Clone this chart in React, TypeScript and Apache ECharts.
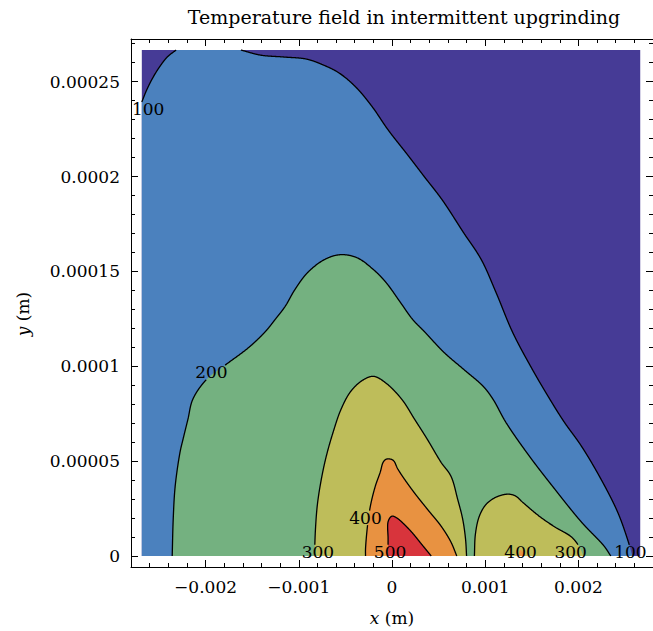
import React, { useEffect, useRef } from "react";
import * as echarts from "echarts";

const FONT = "'DejaVu Serif', 'Liberation Serif', serif";

const chartTitle = "Temperature field in intermittent upgrinding";
const xAxisName = "{i|x} (m)";
const yAxisName = "{i|y} (m)";

const xExtent = [-0.0028, 0.0028];
const yExtent = [-0.0000058, 0.0002725];

const xMajorTicks = [-0.002, -0.001, 0, 0.001, 0.002];
const xTickLabels = ["\u22120.002", "\u22120.001", "0", "0.001", "0.002"];
const xMinorTicks = [
  -0.0026, -0.0024, -0.0022, -0.0018, -0.0016, -0.0014, -0.0012, -0.0008, -0.0006, -0.0004, -0.0002,
  0.0002, 0.0004, 0.0006, 0.0008, 0.0012, 0.0014, 0.0016, 0.0018, 0.0022, 0.0024, 0.0026,
];
const yMajorTicks = [0, 0.00005, 0.0001, 0.00015, 0.0002, 0.00025];
const yTickLabels = ["0", "0.00005", "0.0001", "0.00015", "0.0002", "0.00025"];
const yMinorTicks = [
  0.00001, 0.00002, 0.00003, 0.00004, 0.00006, 0.00007, 0.00008, 0.00009, 0.00011, 0.00012, 0.00013,
  0.00014, 0.00016, 0.00017, 0.00018, 0.00019, 0.00021, 0.00022, 0.00023, 0.00024, 0.00026, 0.00027,
];

// extent of the computed temperature field
const fieldX = [-2.684e-3, 2.663e-3];
const fieldY = [0, 2.667e-4];

// colours of the bands: <100, 100-200, 200-300, 300-400, 400-500, >500
const bandColors = ["#463b96", "#4b81be", "#74b180", "#bebd5a", "#e89241", "#d8343c"];

// contour lines [x (m), y (m)]
const contour100TopLeft = [
  [-2.684e-3, 23.93e-5],
  [-2.632e-3, 24.56e-5],
  [-2.568e-3, 25.19e-5],
  [-2.495e-3, 25.77e-5],
  [-2.411e-3, 26.3e-5],
  [-2.316e-3, 26.67e-5],
];
const contour100Main = [
  [-1.621e-3, 26.67e-5],
  [-1.411e-3, 26.4e-5],
  [-1.158e-3, 26.3e-5],
  [-0.916e-3, 26.19e-5],
  [-0.737e-3, 25.88e-5],
  [-0.568e-3, 25.46e-5],
  [-0.389e-3, 24.72e-5],
  [-0.211e-3, 23.67e-5],
  [-0.042e-3, 22.46e-5],
  [0.168e-3, 21.14e-5],
  [0.347e-3, 19.99e-5],
  [0.537e-3, 18.78e-5],
  [0.768e-3, 17.04e-5],
  [0.958e-3, 15.62e-5],
  [1.116e-3, 13.89e-5],
  [1.295e-3, 11.78e-5],
  [1.505e-3, 9.84e-5],
  [1.674e-3, 8.42e-5],
  [1.842e-3, 7.1e-5],
  [2.032e-3, 5.79e-5],
  [2.242e-3, 4.05e-5],
  [2.421e-3, 2.31e-5],
  [2.526e-3, 0.89e-5],
  [2.579e-3, 0],
];
const contour200 = [
  [-2.358e-3, 0],
  [-2.347e-3, 1.95e-5],
  [-2.326e-3, 3.68e-5],
  [-2.274e-3, 5.47e-5],
  [-2.242e-3, 6.15e-5],
  [-2.189e-3, 7.21e-5],
  [-2.137e-3, 8.26e-5],
  [-1.989e-3, 9.31e-5],
  [-1.779e-3, 10.1e-5],
  [-1.537e-3, 10.99e-5],
  [-1.358e-3, 11.83e-5],
  [-1.253e-3, 12.47e-5],
  [-1.147e-3, 13.15e-5],
  [-1.042e-3, 14.04e-5],
  [-0.905e-3, 14.94e-5],
  [-0.726e-3, 15.62e-5],
  [-0.558e-3, 15.88e-5],
  [-0.379e-3, 15.73e-5],
  [-0.2e-3, 15.1e-5],
  [-0.063e-3, 14.41e-5],
  [0.084e-3, 13.41e-5],
  [0.221e-3, 12.47e-5],
  [0.347e-3, 11.83e-5],
  [0.558e-3, 10.73e-5],
  [0.768e-3, 9.84e-5],
  [0.979e-3, 8.94e-5],
  [1.084e-3, 8.26e-5],
  [1.221e-3, 7.05e-5],
  [1.474e-3, 5.26e-5],
  [1.747e-3, 3.52e-5],
  [2.032e-3, 1.79e-5],
  [2.274e-3, 0.53e-5],
  [2.347e-3, 0],
];
const contour300Main = [
  [-0.832e-3, 0],
  [-0.821e-3, 1.42e-5],
  [-0.8e-3, 2.73e-5],
  [-0.758e-3, 4.05e-5],
  [-0.705e-3, 5.26e-5],
  [-0.632e-3, 6.52e-5],
  [-0.547e-3, 7.73e-5],
  [-0.442e-3, 8.68e-5],
  [-0.316e-3, 9.26e-5],
  [-0.2e-3, 9.47e-5],
  [-0.074e-3, 9.15e-5],
  [0.105e-3, 8.26e-5],
  [0.242e-3, 7.21e-5],
  [0.379e-3, 6.15e-5],
  [0.526e-3, 4.94e-5],
  [0.632e-3, 4.21e-5],
  [0.705e-3, 2.98e-5],
  [0.758e-3, 1.95e-5],
  [0.789e-3, 0.89e-5],
  [0.8e-3, 0],
];
const contour300Lobe = [
  [0.884e-3, 0],
  [0.895e-3, 1.16e-5],
  [0.937e-3, 2.1e-5],
  [1.011e-3, 2.73e-5],
  [1.116e-3, 3.1e-5],
  [1.242e-3, 3.26e-5],
  [1.326e-3, 3.16e-5],
  [1.4e-3, 2.84e-5],
  [1.579e-3, 2.1e-5],
  [1.747e-3, 1.53e-5],
  [1.926e-3, 1.0e-5],
  [2.011e-3, 0.47e-5],
  [2.053e-3, 0],
];
const contour400Main = [
  [-0.284e-3, 0],
  [-0.284e-3, 0.37e-5],
  [-0.263e-3, 1.58e-5],
  [-0.232e-3, 2.63e-5],
  [-0.179e-3, 3.68e-5],
  [-0.126e-3, 4.42e-5],
  [-0.095e-3, 4.94e-5],
  [-0.063e-3, 5.1e-5],
  [-0.011e-3, 5.1e-5],
  [0.021e-3, 5.0e-5],
  [0.063e-3, 4.58e-5],
  [0.211e-3, 3.52e-5],
  [0.379e-3, 2.47e-5],
  [0.526e-3, 1.58e-5],
  [0.632e-3, 0.74e-5],
  [0.695e-3, 0],
];
const contour400Lobe = [
  [1.347e-3, 0],
  [1.379e-3, 0.32e-5],
  [1.432e-3, 0],
];
const contour500 = [
  [-0.042e-3, 0],
  [-0.042e-3, 0.89e-5],
  [-0.04e-3, 1.84e-5],
  [0, 2.1e-5],
  [0.053e-3, 2.0e-5],
  [0.105e-3, 1.79e-5],
  [0.211e-3, 1.26e-5],
  [0.316e-3, 0.63e-5],
  [0.421e-3, 0],
];

const contourLabels = [
  { text: "100", x: -2.616e-3, y: 23.54e-5 },
  { text: "200", x: -1.937e-3, y: 9.68e-5 },
  { text: "300", x: -0.795e-3, y: 0.21e-5 },
  { text: "400", x: -0.284e-3, y: 2.0e-5 },
  { text: "500", x: -0.021e-3, y: 0.21e-5 },
  { text: "400", x: 1.379e-3, y: 0.21e-5 },
  { text: "300", x: 1.916e-3, y: 0.21e-5 },
  { text: "100", x: 2.558e-3, y: 0.21e-5 },
];

const LABEL_FONT_SIZE = 17;
const TICK_FONT_SIZE = 17;

type Pt = number[];
type Part = { pts: Pt[]; smooth: boolean };

const fieldRect: Pt[] = [
  [fieldX[0], fieldY[0]],
  [fieldX[0], fieldY[1]],
  [fieldX[1], fieldY[1]],
  [fieldX[1], fieldY[0]],
];

const fillRegions: { color: string; parts: Part[] }[] = [
  { color: bandColors[0], parts: [{ pts: fieldRect, smooth: false }] },
  {
    color: bandColors[1],
    parts: [
      { pts: [[fieldX[0], fieldY[0]]], smooth: false },
      { pts: contour100TopLeft, smooth: true },
      { pts: contour100Main, smooth: true },
    ],
  },
  { color: bandColors[2], parts: [{ pts: contour200, smooth: true }] },
  { color: bandColors[3], parts: [{ pts: contour300Main, smooth: true }] },
  { color: bandColors[3], parts: [{ pts: contour300Lobe, smooth: true }] },
  { color: bandColors[4], parts: [{ pts: contour400Main, smooth: true }] },
  { color: bandColors[4], parts: [{ pts: contour400Lobe, smooth: true }] },
  { color: bandColors[5], parts: [{ pts: contour500, smooth: true }] },
];

const contourLines = [
  contour100TopLeft,
  contour100Main,
  contour200,
  contour300Main,
  contour300Lobe,
  contour400Main,
  contour400Lobe,
  contour500,
];

// centripetal Catmull-Rom through pixel points
function smoothPath(P: Pt[], steps = 10): Pt[] {
  if (P.length < 3) return P;
  const n = P.length;
  const ext: Pt[] = [
    [2 * P[0][0] - P[1][0], 2 * P[0][1] - P[1][1]],
    ...P,
    [2 * P[n - 1][0] - P[n - 2][0], 2 * P[n - 1][1] - P[n - 2][1]],
  ];
  const out: Pt[] = [P[0]];
  const knot = (a: Pt, b: Pt) => Math.max(1e-6, Math.pow(Math.hypot(b[0] - a[0], b[1] - a[1]), 0.5));
  for (let i = 1; i < ext.length - 2; i++) {
    const p0 = ext[i - 1], p1 = ext[i], p2 = ext[i + 1], p3 = ext[i + 2];
    const t0 = 0;
    const t1 = t0 + knot(p0, p1);
    const t2 = t1 + knot(p1, p2);
    const t3 = t2 + knot(p2, p3);
    for (let s = 1; s <= steps; s++) {
      const t = t1 + ((t2 - t1) * s) / steps;
      const pt: Pt = [0, 0];
      for (let d = 0; d < 2; d++) {
        const A1 = ((t1 - t) / (t1 - t0)) * p0[d] + ((t - t0) / (t1 - t0)) * p1[d];
        const A2 = ((t2 - t) / (t2 - t1)) * p1[d] + ((t - t1) / (t2 - t1)) * p2[d];
        const A3 = ((t3 - t) / (t3 - t2)) * p2[d] + ((t - t2) / (t3 - t2)) * p3[d];
        const B1 = ((t2 - t) / (t2 - t0)) * A1 + ((t - t0) / (t2 - t0)) * A2;
        const B2 = ((t3 - t) / (t3 - t1)) * A2 + ((t - t1) / (t3 - t1)) * A3;
        pt[d] = ((t2 - t) / (t2 - t1)) * B1 + ((t - t1) / (t2 - t1)) * B2;
      }
      out.push(pt);
    }
  }
  return out;
}

function splitOutside(pts: Pt[], rects: number[][]): Pt[][] {
  const inside = (p: Pt) => rects.some((r) => p[0] > r[0] && p[0] < r[2] && p[1] > r[1] && p[1] < r[3]);
  const out: Pt[][] = [];
  let cur: Pt[] = [];
  for (let i = 0; i < pts.length - 1; i++) {
    const a = pts[i], b = pts[i + 1];
    const len = Math.hypot(b[0] - a[0], b[1] - a[1]);
    const n = Math.max(1, Math.ceil(len / 0.5));
    for (let k = i === 0 ? 0 : 1; k <= n; k++) {
      const t = k / n;
      const p: Pt = [a[0] + (b[0] - a[0]) * t, a[1] + (b[1] - a[1]) * t];
      if (inside(p)) {
        if (cur.length > 1) out.push(cur);
        cur = [];
      } else cur.push(p);
    }
  }
  if (cur.length > 1) out.push(cur);
  return out;
}

const labelRects = (api: any) =>
  contourLabels.map((l) => {
    const c = api.coord([l.x, l.y]);
    const hw = (l.text.length * 0.6 * LABEL_FONT_SIZE) / 2 + 1;
    const hh = LABEL_FONT_SIZE * 0.42;
    return [c[0] - hw, c[1] - hh, c[0] + hw, c[1] + hh];
  });

const pick = (ticks: number[], labels: string[]) => (v: number) => {
  const i = ticks.findIndex((t) => Math.abs(t - v) < 1e-10);
  return i >= 0 ? labels[i] : "";
};

const textStyle = { color: "#000", fontFamily: FONT, fontSize: TICK_FONT_SIZE };
const nameStyle = {
  ...textStyle,
  rich: { i: { ...textStyle, fontStyle: "italic" } },
};

function xAxisDef(position: string, major: boolean, labels: boolean, axisLine: boolean) {
  return {
    type: "value",
    position,
    min: xExtent[0],
    max: xExtent[1],
    axisLine: { show: axisLine, onZero: false, lineStyle: { color: "#000", width: 1 } },
    axisTick: {
      show: true,
      inside: true,
      length: major ? 7 : 4,
      customValues: major ? xMajorTicks : xMinorTicks,
      lineStyle: { color: "#000", width: 1 },
    },
    axisLabel: labels
      ? { show: true, customValues: xMajorTicks, formatter: pick(xMajorTicks, xTickLabels), margin: 11, ...textStyle }
      : { show: false },
    splitLine: { show: false },
    ...(labels
      ? { name: xAxisName, nameLocation: "middle", nameGap: 42, nameTextStyle: nameStyle }
      : {}),
  };
}

function yAxisDef(position: string, major: boolean, labels: boolean, axisLine: boolean) {
  return {
    type: "value",
    position,
    min: yExtent[0],
    max: yExtent[1],
    axisLine: { show: axisLine, onZero: false, lineStyle: { color: "#000", width: 1 } },
    axisTick: {
      show: true,
      inside: true,
      length: major ? 7 : 4,
      customValues: major ? yMajorTicks : yMinorTicks,
      lineStyle: { color: "#000", width: 1 },
    },
    axisLabel: labels
      ? { show: true, customValues: yMajorTicks, formatter: pick(yMajorTicks, yTickLabels), margin: 11, ...textStyle }
      : { show: false },
    splitLine: { show: false },
    ...(labels
      ? {
          name: yAxisName,
          nameLocation: "middle",
          nameGap: 100,
          nameTextStyle: { ...nameStyle, padding: [0, 22, 0, 0] },
        }
      : {}),
  };
}

export default function App() {
  const ref = useRef<HTMLDivElement>(null);

  useEffect(() => {
    const chart = echarts.init(ref.current!, null, { renderer: "svg" });

    const fillSeries = fillRegions.map((region) => ({
      type: "custom",
      xAxisIndex: 0,
      yAxisIndex: 0,
      silent: true,
      data: [region.parts[0].pts[0]],
      renderItem: (params: any, api: any) => {
        if (params.dataIndex !== 0) return null;
        const points: Pt[] = [];
        region.parts.forEach((part) => {
          const px = part.pts.map((p) => api.coord(p));
          (part.smooth ? smoothPath(px) : px).forEach((p) => points.push(p));
        });
        return { type: "polygon", shape: { points }, style: { fill: region.color, stroke: "none" } };
      },
    }));

    const lineSeries = contourLines.map((line) => ({
      type: "custom",
      xAxisIndex: 0,
      yAxisIndex: 0,
      silent: true,
      data: [line[0]],
      renderItem: (params: any, api: any) => {
        if (params.dataIndex !== 0) return null;
        const px = smoothPath(line.map((p) => api.coord(p)));
        const segs = splitOutside(px, labelRects(api));
        return {
          type: "group",
          children: segs.map((s) => ({
            type: "polyline",
            shape: { points: s },
            style: { stroke: "#000", lineWidth: 1.3, fill: "none" },
          })),
        };
      },
    }));

    const labelSeries = {
      type: "custom",
      xAxisIndex: 0,
      yAxisIndex: 0,
      silent: true,
      data: contourLabels.map((l) => [l.x, l.y]),
      renderItem: (params: any, api: any) => {
        const c = api.coord([api.value(0), api.value(1)]);
        return {
          type: "text",
          x: c[0],
          y: c[1],
          style: {
            text: contourLabels[params.dataIndex].text,
            fill: "#000",
            fontSize: LABEL_FONT_SIZE,
            fontFamily: FONT,
            align: "center",
            verticalAlign: "middle",
          },
        };
      },
    };

    const option: any = {
      animation: false,
      backgroundColor: "#fff",
      title: {
        text: chartTitle,
        left: 399,
        textAlign: "center",
        top: 2,
        textStyle: { color: "#000", fontFamily: FONT, fontSize: 19, fontWeight: "normal" },
      },
      grid: { left: 131, right: -10, top: 39, bottom: 63, containLabel: false },
      xAxis: [
        xAxisDef("bottom", true, true, true),
        xAxisDef("bottom", false, false, false),
        xAxisDef("top", true, false, true),
        xAxisDef("top", false, false, false),
      ],
      yAxis: [
        yAxisDef("left", true, true, true),
        yAxisDef("left", false, false, false),
        yAxisDef("right", true, false, true),
        yAxisDef("right", false, false, false),
      ],
      series: [...fillSeries, ...lineSeries, labelSeries],
    };

    chart.setOption(option);
    return () => chart.dispose();
  }, []);

  return (
    <div
      ref={ref}
      style={{ position: "fixed", left: 0, top: 0, width: 653, height: 631, background: "#fff" }}
    />
  );
}
